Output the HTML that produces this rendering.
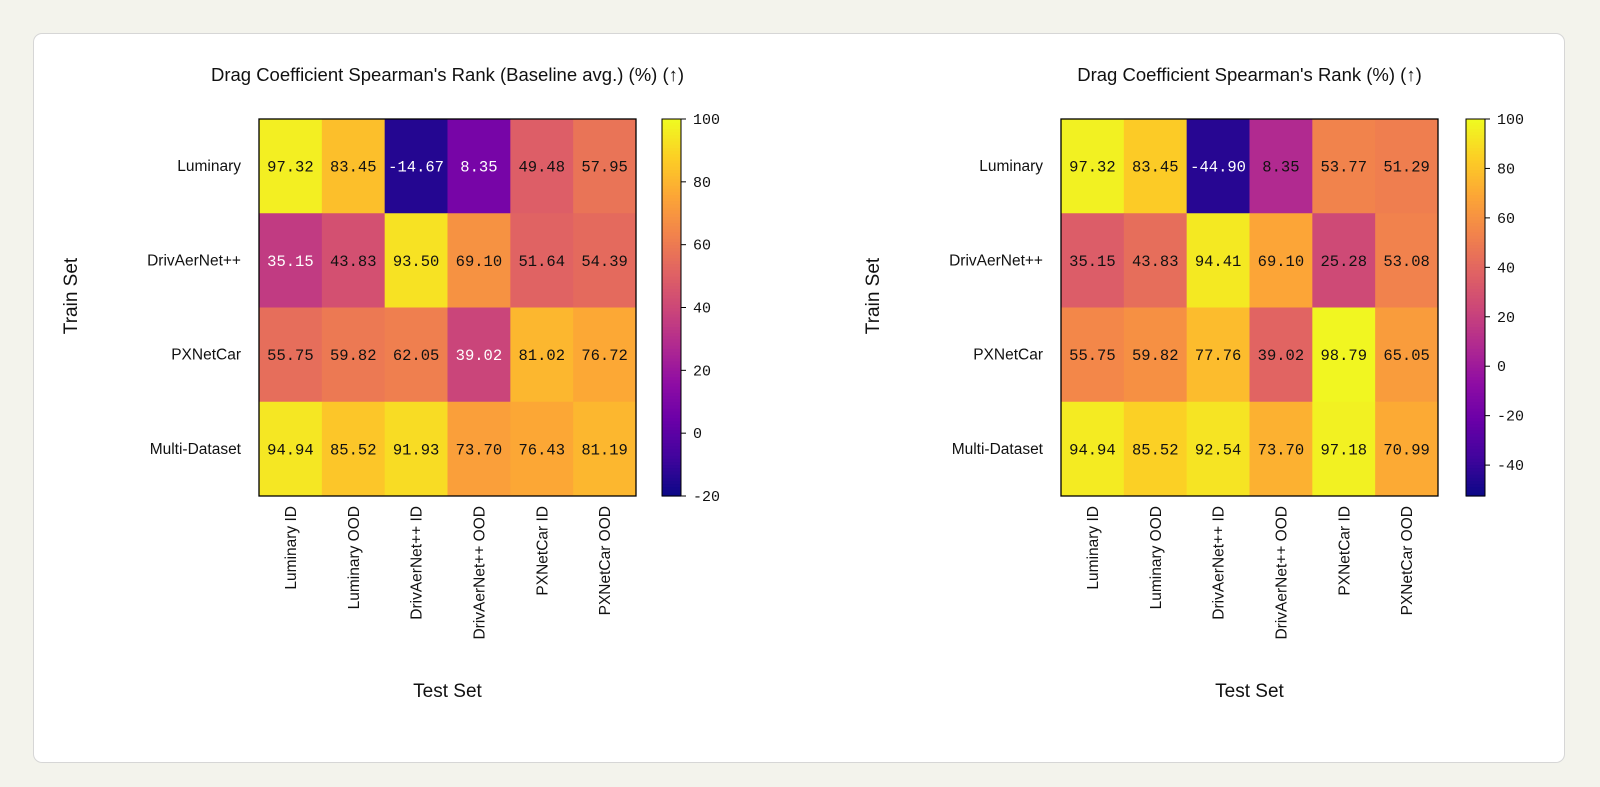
<!DOCTYPE html>
<html><head><meta charset="utf-8"><style>
html,body{margin:0;padding:0;background:#f3f3ec;}
#wrap{position:relative;width:1600px;height:787px;overflow:hidden;}
#card{position:absolute;left:33px;top:33px;width:1530px;height:728px;background:#fff;border:1px solid #d6d6d6;border-radius:9px;}
svg{position:absolute;left:0;top:0;}
.sans{font-family:"Liberation Sans",sans-serif;fill:#111;}
.mono{font-family:"Liberation Mono",monospace;}
</style></head><body>
<div id="wrap">
<div id="card"></div>
<svg id="svg" width="1600" height="787"></svg>
</div>
<script>
const rowLabels=["Luminary","DrivAerNet++","PXNetCar","Multi-Dataset"];
const colLabels=["Luminary ID","Luminary OOD","DrivAerNet++ ID","DrivAerNet++ OOD","PXNetCar ID","PXNetCar OOD"];
const leftValues=[[97.32,83.45,-14.67,8.35,49.48,57.95],[35.15,43.83,93.50,69.10,51.64,54.39],[55.75,59.82,62.05,39.02,81.02,76.72],[94.94,85.52,91.93,73.70,76.43,81.19]];
const rightValues=[[97.32,83.45,-44.90,8.35,53.77,51.29],[35.15,43.83,94.41,69.10,25.28,53.08],[55.75,59.82,77.76,39.02,98.79,65.05],[94.94,85.52,92.54,73.70,97.18,70.99]];
const leftTicks=[-20,0,20,40,60,80,100];
const rightTicks=[-40,-20,0,20,40,60,80,100];
const leftRange=[-20,100];
const rightRange=[-52.5,100];
const leftTitle="Drag Coefficient Spearman's Rank (Baseline avg.) (%) (\u2191)";
const rightTitle="Drag Coefficient Spearman's Rank (%) (\u2191)";
const leftWhiteBelow=40;
const rightWhiteBelow=0;

const plasma=["#0d0887","#41049d","#6a00a8","#8f0da4","#b12a90","#cc4778","#e16462","#f2844b","#fca636","#fcce25","#f0f921"];
function hex(h){return [1,3,5].map(i=>parseInt(h.substr(i,2),16));}
function cmap(t){t=Math.max(0,Math.min(1,t));const p=t*10,i=Math.min(9,Math.floor(p)),f=p-i;const a=hex(plasma[i]),b=hex(plasma[i+1]);return "rgb("+a.map((v,k)=>Math.round(v+(b[k]-v)*f)).join(",")+")";}
const NS="http://www.w3.org/2000/svg";
const svg=document.getElementById('svg');
function el(tag,attrs,parent,txt){const e=document.createElementNS(NS,tag);for(const k in attrs)e.setAttribute(k,attrs[k]);if(txt!==undefined)e.textContent=txt;(parent||svg).appendChild(e);return e;}

function drawChart(id,x0,values,range,ticks,title,whiteBelow,cbX,trainX){
  const y0=119,W=377,H=377,nc=colLabels.length,nr=rowLabels.length,cw=W/nc,ch=H/nr;
  const g=el('g',{});
  
  
  const norm=v=>(v-range[0])/(range[1]-range[0]);
  const xPos=c=>x0+c*cw, yPos=r=>y0+r*ch;
  const t=el('text',{x:x0+W/2,y:81,'text-anchor':'middle','font-size':'18.5',class:'sans'},g,title);
  
  
  values.forEach((row,r)=>row.forEach((v,c)=>{
    const rc=el('rect',{x:xPos(c),y:yPos(r),width:cw+0.5,height:ch+0.5,fill:cmap(norm(v))},g);
    
    
    const tx=el('text',{x:xPos(c)+cw/2,y:yPos(r)+ch/2+5.5,'text-anchor':'middle','font-size':'15.5',class:'mono',fill:v<whiteBelow?'#fff':'#111'},g,v.toFixed(2));
    
    
  }));
  el('rect',{x:x0,y:y0,width:W,height:H,fill:'none',stroke:'#000','stroke-width':1.3},g);
  rowLabels.forEach((l,r)=>{
    const tx=el('text',{x:x0-18,y:yPos(r)+ch/2+5,'text-anchor':'end','font-size':'15.5',class:'sans'},g,l);
    
    
  });
  colLabels.forEach((l,c)=>{
    const cx=xPos(c)+cw/2+5.5;
    const tx=el('text',{x:cx,y:506,'text-anchor':'end','font-size':'15.5',class:'sans',transform:'rotate(-90 '+cx+' 506)'},g,l);
    
    
  });
  const xt=el('text',{x:x0+W/2,y:697,'text-anchor':'middle','font-size':'19',class:'sans'},g,'Test Set');
  
  
  const yt=el('text',{x:trainX+7,y:296,'text-anchor':'middle','font-size':'19',class:'sans',transform:'rotate(-90 '+(trainX+7)+' 296)'},g,'Train Set');
  
  
  const cb=el('g',{},g);
  
  
  const steps=120;
  for(let i=0;i<steps;i++){
    el('rect',{x:cbX,y:y0+H-(i+1)*H/steps,width:19,height:H/steps+0.6,fill:cmap(i/(steps-1))},cb);
  }
  el('rect',{x:cbX,y:y0,width:19,height:H,fill:'none',stroke:'#000','stroke-width':1},cb);
  const cy=v=>y0+H-norm(v)*H;
  ticks.forEach(v=>{
    el('line',{x1:cbX+19,x2:cbX+24,y1:cy(v),y2:cy(v),stroke:'#000','stroke-width':1},cb);
    const tx=el('text',{x:cbX+31,y:cy(v)+5,'font-size':'15',class:'mono',fill:'#111'},cb,String(v));
    
    
  });
}
drawChart('left',259,leftValues,leftRange,leftTicks,leftTitle,leftWhiteBelow,662,70);
drawChart('right',1061,rightValues,rightRange,rightTicks,rightTitle,rightWhiteBelow,1466,872);
</script>
</body></html>
